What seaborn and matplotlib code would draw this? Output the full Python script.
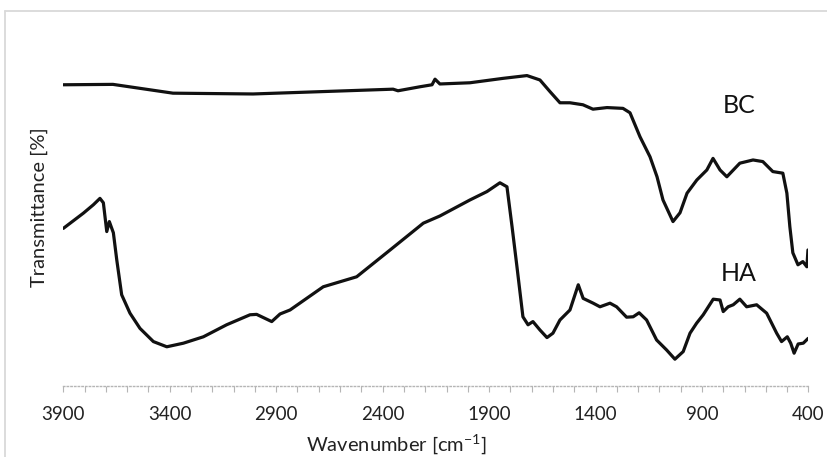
import matplotlib
matplotlib.use('Agg')
import matplotlib.pyplot as plt
from matplotlib.lines import Line2D
import numpy as np
import pandas as pd
import seaborn as sns

# FTIR spectra (wavenumber in cm-1, transmittance in arbitrary %)
bc_wn = [3900, 3667, 3385, 3009, 2351, 2328, 2225, 2168, 2154, 2131, 1990, 1835, 1722,
         1661, 1614, 1567, 1520, 1459, 1412, 1346, 1271, 1238, 1191, 1144, 1111, 1083,
         1036, 1003, 970, 924, 877, 848, 815, 783, 722, 660, 614, 567, 520, 501, 487,
         473, 449, 426, 407, 402]
bc_t = [78.8, 78.9, 76.7, 76.5, 77.7, 77.3, 78.3, 78.8, 80.2, 79.0, 79.3, 80.4, 81.1,
        80.0, 77.1, 74.3, 74.3, 73.8, 72.7, 73.1, 72.9, 71.8, 65.8, 60.8, 55.8, 50.0,
        44.6, 46.8, 51.7, 55.0, 57.5, 60.4, 57.5, 55.8, 59.2, 60.0, 59.6, 57.1, 56.7,
        51.7, 43.3, 36.8, 33.8, 34.6, 33.3, 37.5]

ha_wn = [3900, 3806, 3759, 3728, 3712, 3696, 3684, 3665, 3649, 3626, 3587, 3540, 3477,
         3414, 3336, 3242, 3133, 3023, 2992, 2921, 2882, 2835, 2679, 2522, 2365, 2209,
         2131, 1990, 1910, 1849, 1816, 1792, 1769, 1741, 1717, 1694, 1661, 1628, 1600,
         1567, 1520, 1481, 1458, 1411, 1379, 1332, 1301, 1254, 1223, 1195, 1160, 1113,
         1066, 1027, 988, 956, 925, 894, 847, 815, 800, 777, 753, 722, 690, 643, 596,
         549, 526, 499, 483, 467, 448, 424, 401]
ha_t = [42.9, 46.7, 48.8, 50.4, 49.3, 42.1, 44.6, 41.8, 35.0, 26.3, 21.7, 17.9, 14.6,
        13.3, 14.2, 15.8, 18.8, 21.3, 21.4, 19.6, 21.5, 22.5, 28.3, 30.8, 37.5, 44.2,
        46.0, 50.0, 52.1, 54.3, 53.3, 43.3, 33.3, 20.8, 18.8, 19.6, 17.5, 15.6, 16.7,
        20.0, 22.5, 28.8, 25.4, 24.2, 23.3, 24.2, 23.3, 20.7, 20.8, 21.8, 20.0, 15.0,
        12.5, 10.2, 12.1, 16.7, 19.2, 21.3, 25.2, 25.0, 22.1, 23.3, 23.8, 25.2, 23.3,
        23.8, 21.7, 16.7, 14.6, 15.8, 14.2, 11.7, 14.0, 14.2, 15.4]

tick_vals = list(range(400, 4000, 100))

df = pd.concat([
    pd.DataFrame({'wn': bc_wn, 't': bc_t, 'sample': 'BC'}),
    pd.DataFrame({'wn': ha_wn, 't': ha_t, 'sample': 'HA'}),
])

sns.set_theme(style='white')
plt.rcParams['font.family'] = ['Lato', 'DejaVu Sans']

fig = plt.figure(figsize=(8.28, 4.57), dpi=100)
ax = fig.add_axes([0.0765, 0.1554, 0.8998, 0.8009])

sns.lineplot(data=df, x='wn', y='t', units='sample', estimator=None, sort=False,
             color='#111111', linewidth=2.3, ax=ax, legend=False)

ax.set_xlim(3900, 400)
ax.set_ylim(3.5, 95)

for s in ['top', 'right', 'left']:
    ax.spines[s].set_visible(False)
ax.spines['bottom'].set_color('#b5b5b5')
ax.spines['bottom'].set_linestyle(':')
ax.spines['bottom'].set_linewidth(1.0)

ax.set_xticks(tick_vals)
ax.set_xticklabels([str(v) if (v - 400) % 500 == 0 else '' for v in tick_vals])
ax.tick_params(axis='x', direction='out', length=4, width=0.8, color='#b5b5b5',
               labelsize=13.5, labelcolor='#222222', pad=10.5, bottom=True)
ax.set_yticks([])

ax.set_xlabel('Wavenumber [cm$\\mathregular{^{-1}}$]', fontsize=14.5, color='#222222')
ax.xaxis.set_label_coords(0.4466, -0.1585)
ax.xaxis.label.set_va('center')
ax.set_ylabel('Transmittance [%]', fontsize=14.5, color='#222222')
ax.yaxis.set_label_coords(-0.0326, 0.49)
ax.yaxis.label.set_va('center')

ax.text(726, 73.5, 'BC', fontsize=18, color='#111111', ha='center', va='center')
ax.text(726, 31.5, 'HA', fontsize=18, color='#111111', ha='center', va='center')

# light frame around the chart area
x0 = 5.5 / 828
ytop = 1 - 10.5 / 457
fig.add_artist(Line2D([x0, x0], [0, ytop], color='#d9d9d9', lw=1.3))
fig.add_artist(Line2D([x0, 1], [ytop, ytop], color='#d9d9d9', lw=1.3))

fig.savefig('out.png', dpi=100)
